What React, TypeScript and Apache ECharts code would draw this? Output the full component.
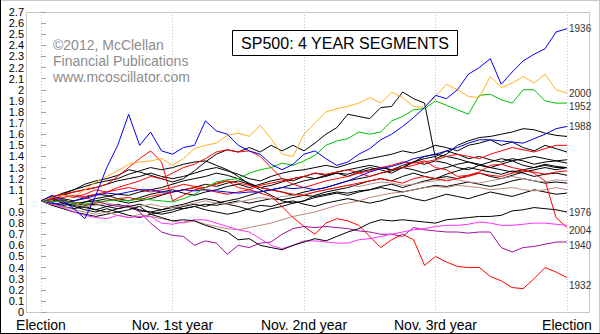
import React, { useEffect, useRef } from 'react';
import * as echarts from 'echarts';

const xLabels = ['Election', 'Nov. 1st year', 'Nov. 2nd year', 'Nov. 3rd year', 'Election'];
const yTickValues = [0,0.1,0.2,0.3,0.4,0.5,0.6,0.7,0.8,0.9,1,1.1,1.2,1.3,1.4,1.5,1.6,1.7,1.8,1.9,2,2.1,2.2,2.3,2.4,2.5,2.6,2.7];
const yTickLabels = ['0','0.1','0.2','0.3','0.4','0.5','0.6','0.7','0.8','0.9','1','1.1','1.2','1.3','1.4','1.5','1.6','1.7','1.8','1.9','2','2.1','2.2','2.3','2.4','2.5','2.6','2.7'];
const watermark = ['\u00a92012, McClellan', 'Financial Publications', 'www.mcoscillator.com'];
const titleText = 'SP500: 4 YEAR SEGMENTS';

// monthly samples, Election day = 1.0, 49 points over 4 years
const blue1936 = [1.0,1.05,1.0,0.93,0.84,1.05,1.3,1.5,1.78,1.5,1.62,1.45,1.42,1.48,1.5,1.72,1.63,1.6,1.5,1.45,1.42,1.33,1.28,1.33,1.42,1.45,1.38,1.32,1.35,1.42,1.47,1.55,1.6,1.67,1.75,1.84,1.95,1.92,2.0,2.14,2.2,2.28,2.05,2.16,2.26,2.32,2.37,2.52,2.55];
const orange2000 = [1.0,1.03,1.05,1.04,1.1,1.17,1.22,1.27,1.33,1.35,1.36,1.38,1.32,1.38,1.47,1.5,1.52,1.59,1.61,1.58,1.68,1.56,1.42,1.4,1.6,1.7,1.8,1.83,1.85,1.88,1.93,1.88,1.98,1.93,1.85,1.84,1.94,2.05,2.0,1.94,1.93,2.12,2.02,2.06,2.12,2.06,2.14,2.0,1.97];
const green1952 = [1.0,0.99,1.0,0.98,0.97,0.99,1.0,1.01,1.0,1.02,1.01,1.0,0.99,1.02,1.06,1.12,1.17,1.19,1.2,1.25,1.28,1.3,1.34,1.32,1.36,1.41,1.5,1.54,1.56,1.62,1.6,1.62,1.72,1.76,1.82,1.83,1.9,1.86,1.82,1.78,1.95,1.96,1.91,1.88,2.0,2.0,1.9,1.88,1.88];
const blue1988 = [1.0,0.98,0.97,1.0,1.02,1.05,1.07,1.06,1.08,1.1,1.1,1.08,1.08,1.1,1.09,1.1,1.09,1.08,1.07,1.08,1.08,1.1,1.12,1.11,1.12,1.1,1.12,1.15,1.18,1.22,1.26,1.29,1.31,1.34,1.38,1.4,1.42,1.45,1.48,1.52,1.55,1.55,1.54,1.53,1.52,1.56,1.6,1.65,1.67];
const black1976 = [1.0,1.03,0.98,0.95,0.92,0.9,0.93,0.9,0.92,0.95,0.88,0.85,0.82,0.83,0.82,0.78,0.75,0.72,0.65,0.66,0.6,0.58,0.56,0.6,0.63,0.66,0.64,0.68,0.72,0.75,0.8,0.83,0.82,0.83,0.82,0.81,0.8,0.83,0.84,0.85,0.86,0.86,0.87,0.91,0.92,0.94,0.93,0.92,0.9];
const red2004 = [1.0,1.02,1.0,0.99,0.97,0.98,1.0,1.02,1.03,1.01,1.04,1.06,1.08,1.1,1.12,1.1,1.08,1.06,1.08,1.1,1.14,1.16,1.18,1.2,1.22,1.25,1.24,1.26,1.28,1.25,1.27,1.3,1.32,1.35,1.34,1.36,1.3,1.28,1.22,1.23,1.26,1.32,1.33,1.3,1.28,1.25,1.18,0.85,0.76];
const magenta = [1.0,0.97,0.94,0.9,0.87,0.85,0.84,0.87,0.85,0.86,0.86,0.8,0.79,0.81,0.83,0.83,0.8,0.77,0.74,0.72,0.66,0.6,0.57,0.6,0.64,0.64,0.63,0.62,0.62,0.65,0.66,0.68,0.7,0.72,0.74,0.75,0.77,0.78,0.78,0.79,0.81,0.8,0.78,0.78,0.79,0.8,0.8,0.79,0.78];
const purple1940 = [1.0,1.02,1.05,1.04,1.03,1.0,0.97,0.95,0.96,0.9,0.8,0.72,0.69,0.68,0.6,0.64,0.62,0.52,0.6,0.58,0.62,0.63,0.7,0.75,0.77,0.76,0.77,0.76,0.75,0.73,0.72,0.7,0.7,0.68,0.76,0.74,0.73,0.72,0.72,0.71,0.72,0.72,0.58,0.54,0.58,0.59,0.61,0.63,0.63];
const red1932 = [1.0,1.04,1.06,1.08,1.1,1.12,1.15,1.22,1.3,1.38,1.45,1.35,1.0,1.05,1.1,1.12,1.16,1.18,1.12,1.1,1.07,1.04,0.95,0.85,0.77,0.7,0.8,0.84,0.82,0.78,0.68,0.58,0.65,0.7,0.65,0.42,0.5,0.45,0.41,0.4,0.4,0.32,0.28,0.22,0.21,0.3,0.4,0.36,0.31];

const blackA = [1.0,1.03,1.06,1.1,1.15,1.18,1.2,1.23,1.28,1.26,1.23,1.2,1.17,1.2,1.27,1.35,1.42,1.46,1.44,1.48,1.44,1.5,1.45,1.5,1.45,1.52,1.6,1.66,1.78,1.76,1.74,1.84,1.85,1.98,1.92,1.88,1.38,1.42,1.5,1.54,1.57,1.58,1.6,1.62,1.65,1.64,1.61,1.59,1.58];
const blackB = [1.0,1.02,1.05,1.08,1.1,1.12,1.15,1.18,1.2,1.22,1.25,1.22,1.2,1.22,1.25,1.28,1.3,1.27,1.24,1.2,1.18,1.22,1.25,1.27,1.28,1.3,1.32,1.3,1.33,1.36,1.38,1.4,1.42,1.45,1.43,1.46,1.5,1.48,1.45,1.5,1.52,1.55,1.5,1.53,1.48,1.45,1.5,1.47,1.44];
const blackC = [1.0,0.98,0.96,0.97,0.99,1.0,1.02,1.0,0.98,1.0,1.02,1.05,1.08,1.1,1.12,1.15,1.13,1.16,1.18,1.15,1.12,1.14,1.17,1.2,1.22,1.2,1.23,1.25,1.22,1.26,1.28,1.3,1.28,1.32,1.35,1.33,1.36,1.34,1.3,1.28,1.32,1.35,1.38,1.36,1.32,1.3,1.33,1.31,1.3];
const blackD = [1.0,1.03,1.07,1.1,1.13,1.16,1.18,1.2,1.24,1.27,1.3,1.28,1.3,1.33,1.35,1.36,1.32,1.28,1.22,1.15,1.1,1.05,1.0,0.98,1.0,1.05,1.08,1.1,1.12,1.15,1.18,1.2,1.18,1.22,1.25,1.22,1.2,1.24,1.27,1.3,1.28,1.26,1.24,1.27,1.25,1.22,1.24,1.25,1.23];
const blackE = [1.0,0.97,0.95,0.93,0.95,0.92,0.9,0.93,0.95,0.92,0.9,0.92,0.94,0.93,0.95,0.97,0.96,0.98,1.0,0.98,1.0,1.02,1.01,1.03,1.05,1.04,1.06,1.08,1.07,1.09,1.1,1.12,1.1,1.08,1.1,1.12,1.14,1.13,1.15,1.17,1.15,1.13,1.15,1.18,1.2,1.18,1.16,1.17,1.16];
const blackF = [1.0,1.02,0.99,0.96,0.94,0.92,0.95,0.97,0.94,0.91,0.9,0.88,0.9,0.93,0.95,0.92,0.9,0.88,0.9,0.93,0.96,0.95,0.98,1.0,0.97,0.95,0.98,1.0,1.02,1.0,0.98,1.0,1.03,1.05,1.02,1.0,1.03,1.06,1.04,1.02,1.05,1.08,1.06,1.04,1.07,1.1,1.08,1.06,1.07];
const blackG = [1.0,1.04,1.02,1.0,1.03,1.06,1.05,1.02,1.0,1.03,1.06,1.08,1.1,1.07,1.05,1.08,1.1,1.13,1.15,1.12,1.15,1.18,1.2,1.18,1.22,1.25,1.23,1.26,1.28,1.3,1.32,1.3,1.28,1.3,1.35,1.38,1.4,1.45,1.42,1.38,1.4,1.37,1.35,1.38,1.36,1.33,1.35,1.36,1.34];
const blackH = [1.0,0.96,0.93,0.9,0.88,0.86,0.88,0.9,0.87,0.85,0.88,0.9,0.92,0.95,0.97,0.95,0.98,1.0,1.02,1.05,1.08,1.1,1.12,1.15,1.18,1.2,1.22,1.25,1.24,1.27,1.3,1.28,1.25,1.3,1.35,1.4,1.42,1.4,1.38,1.35,1.33,1.3,1.28,1.26,1.28,1.3,1.32,1.3,1.3];
const blackI = [1.0,0.99,1.01,0.98,0.96,0.97,0.95,0.93,0.95,0.97,0.94,0.92,0.95,0.97,1.0,1.02,1.0,0.97,0.95,0.92,0.9,0.93,0.95,0.98,1.0,1.03,1.05,1.07,1.05,1.08,1.1,1.13,1.15,1.12,1.15,1.18,1.2,1.22,1.2,1.23,1.25,1.22,1.2,1.23,1.26,1.28,1.3,1.28,1.3];
const blackJ = [1.0,1.01,0.98,0.97,0.99,1.02,1.04,1.06,1.05,1.08,1.1,1.12,1.15,1.18,1.2,1.22,1.25,1.23,1.2,1.16,1.12,1.1,1.08,1.05,1.08,1.1,1.12,1.15,1.18,1.2,1.22,1.25,1.27,1.3,1.28,1.25,1.28,1.3,1.33,1.35,1.32,1.3,1.33,1.36,1.38,1.4,1.38,1.36,1.37];
const red2 = [1.0,1.02,1.05,1.03,1.06,1.1,1.08,1.12,1.15,1.18,1.22,1.2,1.25,1.3,1.33,1.38,1.44,1.46,1.44,1.45,1.4,1.3,1.2,1.15,1.12,1.15,1.18,1.2,1.22,1.25,1.22,1.25,1.28,1.3,1.32,1.35,1.37,1.4,1.42,1.4,1.38,1.42,1.45,1.48,1.46,1.44,1.47,1.5,1.5];
const red3 = [1.0,1.01,1.03,1.05,1.04,1.06,1.08,1.1,1.12,1.1,1.08,1.1,1.12,1.15,1.13,1.12,1.15,1.18,1.16,1.14,1.12,1.1,1.08,1.06,1.05,1.08,1.1,1.12,1.14,1.16,1.18,1.2,1.18,1.16,1.2,1.22,1.2,1.18,1.2,1.22,1.25,1.23,1.22,1.25,1.27,1.26,1.24,1.26,1.27];
const brown1 = [1.0,0.97,0.95,0.92,0.9,0.88,0.9,0.87,0.85,0.88,0.86,0.84,0.82,0.8,0.82,0.79,0.77,0.75,0.74,0.76,0.78,0.8,0.83,0.86,0.88,0.9,0.93,0.96,0.98,1.0,1.03,1.05,1.07,1.08,1.1,1.12,1.13,1.12,1.14,1.13,1.12,1.1,1.11,1.12,1.1,1.09,1.1,1.12,1.1];
const brown2 = [1.0,1.02,0.99,0.97,0.95,0.96,0.98,0.96,0.94,0.95,0.97,0.95,0.94,0.96,0.98,1.0,0.98,0.97,0.99,1.01,1.03,1.02,1.04,1.05,1.06,1.08,1.1,1.12,1.14,1.13,1.15,1.17,1.16,1.14,1.15,1.17,1.18,1.2,1.19,1.17,1.16,1.18,1.2,1.22,1.2,1.18,1.17,1.19,1.18];

export default function App() {
  const ref = useRef<HTMLDivElement>(null);
  useEffect(() => {
    const chart = echarts.init(ref.current!, null, { renderer: 'svg' });
    const toPts = (vals: number[]) => vals.map((v, i) => [i / 12, v]);
    const defs: { name: string; data: number[]; color: string; dy?: number }[] = [
      { name: '', data: blackB, color: '#000000' },
      { name: '', data: blackC, color: '#000000' },
      { name: '', data: blackD, color: '#000000' },
      { name: '', data: blackE, color: '#000000' },
      { name: '', data: blackF, color: '#000000' },
      { name: '', data: blackG, color: '#000000' },
      { name: '', data: blackH, color: '#000000' },
      { name: '', data: blackI, color: '#000000' },
      { name: '', data: blackJ, color: '#000000' },
      { name: '', data: blackA, color: '#000000' },
      { name: '', data: brown1, color: '#c08878' },
      { name: '', data: brown2, color: '#b89088' },
      { name: '', data: red3, color: '#ff0000' },
      { name: '', data: red2, color: '#ff0000' },
      { name: '2004', data: red2004, color: '#ff0000', dy: 3 },
      { name: '1932', data: red1932, color: '#ff0000', dy: 8 },
      { name: '1940', data: purple1940, color: '#a010a0', dy: 3 },
      { name: '', data: magenta, color: '#ff30ff' },
      { name: '1976', data: black1976, color: '#000000', dy: 0 },
      { name: '1988', data: blue1988, color: '#0000e0', dy: 0 },
      { name: '1952', data: green1952, color: '#00c000', dy: 3 },
      { name: '2000', data: orange2000, color: '#ffb020', dy: 0 },
      { name: '1936', data: blue1936, color: '#0000ff', dy: 0 },
    ];
    const series = defs.map((d) => ({
      type: 'line',
      name: d.name,
      data: toPts(d.data),
      showSymbol: false,
      symbol: 'none',
      lineStyle: { color: d.color, width: 1 },
      itemStyle: { color: d.color },
      silent: true,
      endLabel: d.name
        ? {
            show: true,
            formatter: d.name,
            distance: 2,
            offset: [0, d.dy || 0],
            color: '#333333',
            fontSize: 10,
            lineHeight: 11,
            fontFamily: 'Arial, Liberation Sans, sans-serif',
          }
        : { show: false },
    }));
    const staticGraphics: any[] = [
      { type: 'rect', z: -1, silent: true, shape: { x: 26.5, y: 12.5, width: 563, height: 300 }, style: { fill: 'none', stroke: '#c8c8c8', lineWidth: 1 } },
      { type: 'line', silent: true, shape: { x1: 0, y1: 0.5, x2: 600, y2: 0.5 }, style: { stroke: '#c8c8c8', lineWidth: 1 } },
      { type: 'line', silent: true, shape: { x1: 599.5, y1: 0, x2: 599.5, y2: 334 }, style: { stroke: '#c8c8c8', lineWidth: 1 } },
      { type: 'line', silent: true, shape: { x1: 0.5, y1: 0, x2: 0.5, y2: 334 }, style: { stroke: '#000000', lineWidth: 1 } },
      { type: 'line', silent: true, shape: { x1: 0, y1: 333.5, x2: 600, y2: 333.5 }, style: { stroke: '#000000', lineWidth: 1 } },
      {
        type: 'text', silent: true, left: 53, top: 37,
        style: { text: watermark.join('\n'), fill: '#8c8c8c', fontSize: 14, lineHeight: 16, fontFamily: 'Arial, Liberation Sans, sans-serif' },
      },
      { type: 'rect', z: 50, silent: true, shape: { x: 232.5, y: 30.5, width: 225, height: 25 }, style: { fill: '#ffffff', stroke: '#000000', lineWidth: 1 } },
      {
        type: 'text', z: 51, silent: true, x: 345, y: 43,
        style: { text: titleText, fill: '#000000', fontSize: 16, align: 'center', verticalAlign: 'middle', fontFamily: 'Arial, Liberation Sans, sans-serif' },
      },
    ];
    chart.setOption({
      animation: false,
      backgroundColor: '#ffffff',
      grid: { left: 41, right: 33, top: 12, bottom: 22, containLabel: false },
      xAxis: {
        type: 'value',
        min: 0,
        max: 4,
        interval: 1,
        axisLine: { show: false },
        axisTick: { show: false },
        axisLabel: {
          formatter: (v: number) => xLabels[Math.round(v)],
          fontSize: 14,
          color: '#000000',
          margin: 6,
          showMinLabel: true,
          showMaxLabel: true,
          fontFamily: 'Arial, Liberation Sans, sans-serif',
        },
        splitLine: { show: true, lineStyle: { color: '#c4c4c4', type: [1, 2], width: 1 } },
      },
      yAxis: {
        type: 'value',
        min: 0,
        max: 2.7,
        interval: 0.1,
        offset: 15,
        axisLine: { show: false },
        axisTick: { show: true, inside: true, length: 5, lineStyle: { color: '#a0a0a0' } },
        axisLabel: { show: false },
        splitLine: { show: false },
      },
      series,
      graphic: staticGraphics,
    });
    const yLabelGraphics = yTickValues.map((v, i) => ({
      type: 'text',
      silent: true,
      x: 24,
      y: chart.convertToPixel({ yAxisIndex: 0 }, v) as number,
      style: {
        text: yTickLabels[i],
        fill: '#000000',
        fontSize: 11,
        align: 'right',
        verticalAlign: 'middle',
        fontFamily: 'Arial, Liberation Sans, sans-serif',
      },
    }));
    chart.setOption({ graphic: [...staticGraphics, ...yLabelGraphics] });
    return () => chart.dispose();
  }, []);
  return <div ref={ref} style={{ position: 'fixed', left: 0, top: 0, width: 600, height: 334, background: '#fff' }} />;
}
